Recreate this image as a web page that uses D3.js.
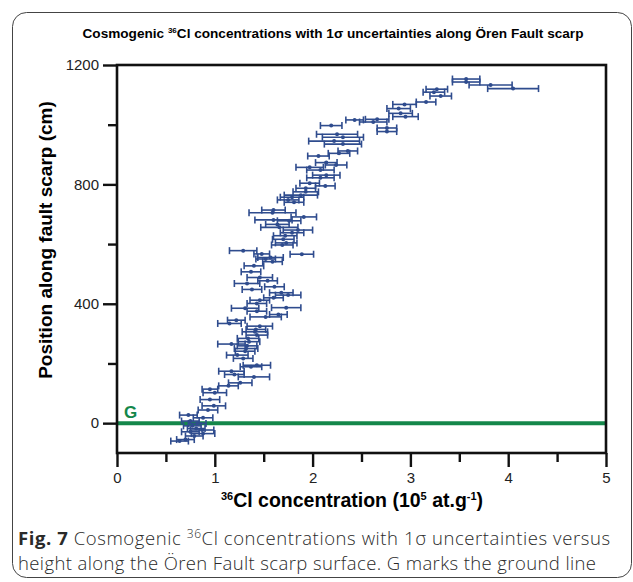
<!DOCTYPE html>
<html><head><meta charset="utf-8">
<script src="https://cdn.jsdelivr.net/npm/d3@7"></script>
<style>
html,body{margin:0;padding:0;background:#fff;}
svg{display:block;}
</style></head>
<body>
<svg id="c" width="633" height="582"></svg>
<script>
// ---- data ----
const concentration = [3.57,3.57,3.82,4.05,3.27,3.24,3.31,3.16,2.94,2.88,2.90,2.95,2.43,2.66,2.62,2.19,2.76,2.76,2.25,2.31,2.22,2.31,2.36,2.27,2.06,2.14,2.24,1.97,2.08,2.14,2.08,1.97,2.13,1.93,1.93,1.88,1.79,1.75,1.81,1.60,1.59,1.91,1.76,1.60,1.64,1.66,1.85,1.79,1.72,1.70,1.73,1.69,1.29,1.89,1.48,1.57,1.52,1.59,1.40,1.37,1.46,1.54,1.33,1.61,1.38,1.68,1.75,1.60,1.46,1.43,1.31,1.73,1.43,1.65,1.52,1.22,1.15,1.46,1.42,1.41,1.43,1.34,1.35,1.17,1.33,1.32,1.31,1.23,1.29,1.43,1.37,1.17,1.20,1.40,1.26,1.14,0.95,1.00,0.95,0.99,0.93,0.73,0.88,0.75,0.82,0.77,0.81,0.87,0.75,0.88,0.79,0.70,0.64];
const position = [1153,1143,1133,1121,1119,1109,1096,1076,1068,1054,1038,1027,1016,1018,1009,997,989,977,968,958,945,935,912,904,895,873,865,857,848,831,822,804,795,787,775,764,757,748,740,714,705,691,678,681,666,656,647,638,628,616,604,597,578,566,567,555,550,541,527,507,488,477,468,457,448,437,429,420,412,401,385,387,375,364,356,345,334,325,314,306,295,284,273,265,259,250,241,228,217,194,189,174,163,155,135,125,114,102,79,58,44,27,18,7,-1,-9,-18,-23,-29,-35,-43,-55,-60];
const uncertainty = [0.14,0.14,0.22,0.26,0.11,0.11,0.11,0.10,0.12,0.12,0.12,0.13,0.09,0.12,0.14,0.11,0.10,0.10,0.21,0.21,0.26,0.19,0.10,0.11,0.11,0.11,0.11,0.14,0.14,0.14,0.14,0.10,0.10,0.10,0.13,0.17,0.12,0.11,0.10,0.12,0.24,0.13,0.12,0.19,0.12,0.19,0.15,0.12,0.12,0.11,0.11,0.11,0.14,0.12,0.08,0.13,0.10,0.10,0.10,0.10,0.13,0.10,0.13,0.10,0.10,0.12,0.13,0.10,0.10,0.10,0.14,0.15,0.10,0.09,0.16,0.09,0.12,0.13,0.10,0.13,0.11,0.11,0.11,0.14,0.10,0.12,0.10,0.11,0.10,0.14,0.11,0.13,0.10,0.16,0.12,0.10,0.08,0.12,0.10,0.12,0.10,0.09,0.10,0.09,0.09,0.09,0.09,0.12,0.09,0.12,0.09,0.09,0.09];
const xTicks = [0,1,2,3,4,5];
const xMinorTicks = [0.5,1.5,2.5,3.5,4.5];
const yTicks = [0,400,800,1200];
const yMinorTicks = [200,600,1000];
const groundLevel = 0;

const points = concentration.map((c,i)=>({c, p:position[i], e:uncertainty[i]}));

const svg = d3.select("#c");
const blue = "#2f4c8e", green = "#14874a";
const chartFont = "'Liberation Sans', Arial, sans-serif";

// outer figure border
svg.append("rect").attr("x",12.5).attr("y",12.5).attr("width",619).attr("height",565)
  .attr("rx",14).attr("fill","none").attr("stroke","#444").attr("stroke-width",1);

const x = d3.scaleLinear().domain([0,5]).range([117,606]);
const y = d3.scaleLinear().domain([-100,1200]).range([453,65]);

// title
const t = svg.append("text").attr("x",333).attr("y",38).attr("text-anchor","middle")
  .attr("font-family",chartFont).attr("font-weight","bold").attr("font-size",13.6);
t.append("tspan").text("Cosmogenic ");
t.append("tspan").attr("font-size",8).attr("dy",-5).text("36");
t.append("tspan").attr("dy",5).text("Cl concentrations with 1σ uncertainties along Ören Fault scarp");

// ground line
svg.append("line").attr("x1",x(0)).attr("x2",x(5)).attr("y1",y(groundLevel)).attr("y2",y(groundLevel))
  .attr("stroke",green).attr("stroke-width",4);
svg.append("text").attr("x",124).attr("y",418).attr("fill",green).attr("font-family",chartFont)
  .attr("font-weight","bold").attr("font-size",17).text("G");

// error bars
const g = svg.append("g").attr("stroke",blue).attr("stroke-width",1.6).attr("fill","none");
points.forEach(d=>{
  const yy = y(d.p);
  g.append("line").attr("x1",x(d.c-d.e)).attr("x2",x(d.c+d.e)).attr("y1",yy).attr("y2",yy);
  g.append("line").attr("x1",x(d.c-d.e)).attr("x2",x(d.c-d.e)).attr("y1",yy-3.5).attr("y2",yy+3.5);
  g.append("line").attr("x1",x(d.c+d.e)).attr("x2",x(d.c+d.e)).attr("y1",yy-3.5).attr("y2",yy+3.5);
});
svg.append("g").selectAll("circle").data(points).join("circle")
  .attr("cx",d=>x(d.c)).attr("cy",d=>y(d.p)).attr("r",2).attr("fill",blue);

// frame
svg.append("rect").attr("x",117).attr("y",65).attr("width",489).attr("height",388)
  .attr("fill","none").attr("stroke","#111").attr("stroke-width",2.6);

// axes
svg.append("g").attr("transform","translate(0,453)")
  .call(d3.axisBottom(x).tickValues(xTicks).tickSize(14).tickFormat(d3.format("d")).tickPadding(5));
svg.append("g").attr("transform","translate(0,453)")
  .call(d3.axisBottom(x).tickValues(xMinorTicks).tickSize(9).tickFormat(""));
svg.append("g").attr("transform","translate(117,0)")
  .call(d3.axisLeft(y).tickValues(yTicks).tickSize(14).tickPadding(4).tickFormat(d3.format("d")));
svg.append("g").attr("transform","translate(117,0)")
  .call(d3.axisLeft(y).tickValues(yMinorTicks).tickSize(9).tickFormat(""));
svg.selectAll(".domain").remove();
svg.selectAll(".tick line").attr("stroke","#111").attr("stroke-width",2.4);
svg.selectAll(".tick text").attr("font-family",chartFont).attr("font-size",15).attr("fill","#222");

// axis titles
const xt = svg.append("text").attr("x",352).attr("y",507).attr("text-anchor","middle")
  .attr("font-family",chartFont).attr("font-weight","bold").attr("font-size",19.5);
xt.append("tspan").attr("font-size",11).attr("dy",-7).text("36");
xt.append("tspan").attr("dy",7).text("Cl concentration (10");
xt.append("tspan").attr("font-size",11).attr("dy",-7).text("5");
xt.append("tspan").attr("dy",7).text(" at.g");
xt.append("tspan").attr("font-size",11).attr("dy",-7).text("-1");
xt.append("tspan").attr("dy",7).text(")");

svg.append("text").attr("transform","translate(52,240) rotate(-90)").attr("text-anchor","middle")
  .attr("font-family",chartFont).attr("font-weight","bold").attr("font-size",19)
  .text("Position along fault scarp (cm)");

// caption
const capFont = "'Open Sans', 'Noto Sans', sans-serif";
const c1 = svg.append("text").attr("x",18).attr("y",545).attr("font-family",capFont).attr("font-size",18.5)
  .attr("fill","#2a2a2a").attr("textLength",592).attr("lengthAdjust","spacing");
c1.append("tspan").attr("font-weight","bold").text("Fig. 7");
c1.append("tspan").attr("font-weight","300").text("  Cosmogenic ");
c1.append("tspan").attr("font-weight","300").attr("font-size",12).attr("dy",-7).text("36");
c1.append("tspan").attr("font-weight","300").attr("dy",7).text("Cl concentrations with 1σ uncertainties versus");
svg.append("text").attr("x",18).attr("y",570).attr("font-family",capFont).attr("font-size",18.5).attr("font-weight","300")
  .attr("fill","#2a2a2a").attr("textLength",578).attr("lengthAdjust","spacing")
  .text("height along the Ören Fault scarp surface. G marks the ground line");
</script>
</body></html>
